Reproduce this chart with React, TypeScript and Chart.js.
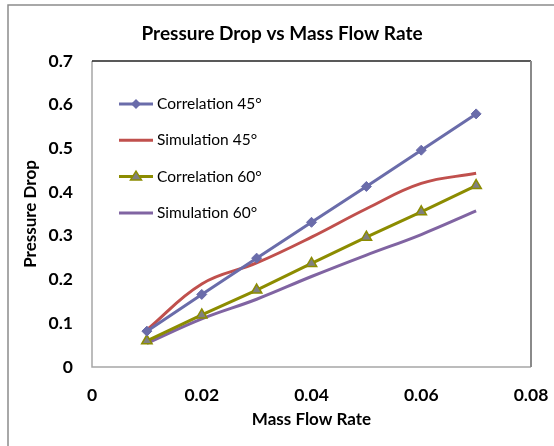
import { useEffect, useRef } from 'react';
import { Chart, registerables } from 'chart.js';

Chart.register(...registerables);

// Mass flow rate samples and pressure drop per configuration
const massFlow = [0.01, 0.02, 0.03, 0.04, 0.05, 0.06, 0.07];
const correlation45 = [0.082, 0.166, 0.249, 0.331, 0.413, 0.496, 0.579];
const simulation45 = [0.085, 0.19, 0.238, 0.297, 0.362, 0.42, 0.443];
const correlation60 = [0.06, 0.119, 0.176, 0.237, 0.297, 0.355, 0.415];
const simulation60 = [0.054, 0.11, 0.155, 0.207, 0.256, 0.303, 0.357];

const seriesNames = ['Correlation 45°', 'Simulation 45°', 'Correlation 60°', 'Simulation 60°'];
const xTicks = [0, 0.02, 0.04, 0.06, 0.08];
const yTicks = [0, 0.1, 0.2, 0.3, 0.4, 0.5, 0.6, 0.7];

const chartTitle = 'Pressure Drop vs Mass Flow Rate';
const xTitle = 'Mass Flow Rate';
const yTitle = 'Pressure Drop';

const FONT = 'Lato, "Open Sans", sans-serif';

const toPoints = (ys: number[]) => massFlow.map((x, i) => ({ x, y: ys[i] }));
const fmt = (v: number) => String(Number(v.toFixed(3)));

const decor = {
  id: 'decor',
  beforeDraw(chart: any) {
    const { ctx } = chart;
    ctx.save();
    // outer frame (left and top edges)
    ctx.strokeStyle = '#8c8c8c';
    ctx.lineWidth = 1.5;
    ctx.beginPath();
    ctx.moveTo(8, 446);
    ctx.lineTo(8, 5);
    ctx.lineTo(554, 5);
    ctx.stroke();
    // title
    ctx.fillStyle = '#000';
    ctx.font = `bold 19px ${FONT}`;
    ctx.textAlign = 'center';
    ctx.textBaseline = 'middle';
    ctx.fillText(chartTitle, 282, 34);
    ctx.restore();
  },
  beforeDatasetsDraw(chart: any) {
    const { ctx, chartArea: a } = chart;
    ctx.save();
    ctx.lineWidth = 1.5;
    ctx.strokeStyle = '#a6a6a6';
    ctx.beginPath();
    ctx.moveTo(a.left, a.top);
    ctx.lineTo(a.left, a.bottom);
    ctx.lineTo(a.right, a.bottom);
    ctx.stroke();
    ctx.strokeStyle = '#222';
    ctx.beginPath();
    ctx.moveTo(a.left, a.top);
    ctx.lineTo(a.right, a.top);
    ctx.stroke();
    ctx.strokeStyle = '#8a8a8a';
    ctx.lineWidth = 2;
    ctx.beginPath();
    ctx.moveTo(a.right, a.top);
    ctx.lineTo(a.right, a.bottom);
    ctx.stroke();
    ctx.restore();
  },
  afterDraw(chart: any) {
    const { ctx, chartArea: a } = chart;
    ctx.save();
    const x0 = a.left + 27;
    const x1 = a.left + 61;
    chart.data.datasets.forEach((ds: any, i: number) => {
      const y = a.top + 43 + i * 36.3;
      ctx.strokeStyle = ds.borderColor;
      ctx.lineWidth = 3;
      ctx.beginPath();
      ctx.moveTo(x0, y);
      ctx.lineTo(x1, y);
      ctx.stroke();
      const mx = (x0 + x1) / 2;
      if (ds.pointStyle === 'rectRot') {
        const r = 5;
        ctx.fillStyle = ds.pointBackgroundColor;
        ctx.beginPath();
        ctx.moveTo(mx, y - r);
        ctx.lineTo(mx + r, y);
        ctx.lineTo(mx, y + r);
        ctx.lineTo(mx - r, y);
        ctx.closePath();
        ctx.fill();
      } else if (ds.pointStyle === 'triangle') {
        const r = 5.5;
        ctx.fillStyle = ds.pointBackgroundColor;
        ctx.strokeStyle = ds.pointBorderColor;
        ctx.lineWidth = 1.5;
        ctx.beginPath();
        ctx.moveTo(mx, y - r);
        ctx.lineTo(mx + r, y + r * 0.6);
        ctx.lineTo(mx - r, y + r * 0.6);
        ctx.closePath();
        ctx.fill();
        ctx.stroke();
      }
      ctx.fillStyle = '#000';
      ctx.font = `15.5px ${FONT}`;
      ctx.textAlign = 'left';
      ctx.textBaseline = 'middle';
      ctx.fillText(ds.label, x1 + 4, y);
    });
    ctx.restore();
  },
};

export default function App() {
  const ref = useRef<HTMLCanvasElement | null>(null);

  useEffect(() => {
    if (!ref.current) return;
    const blue = '#6a6caa';
    const red = '#c0504d';
    const olive = '#8c8c00';
    const purple = '#8064a2';
    const chart = new Chart(ref.current, {
      type: 'scatter',
      data: {
        datasets: [
          {
            label: seriesNames[0],
            data: toPoints(correlation45),
            showLine: true,
            borderColor: blue,
            borderWidth: 3,
            pointStyle: 'rectRot',
            pointRadius: 5,
            pointBackgroundColor: blue,
            pointBorderColor: blue,
            pointBorderWidth: 1,
            tension: 0,
          },
          {
            label: seriesNames[1],
            data: toPoints(simulation45),
            showLine: true,
            borderColor: red,
            borderWidth: 3,
            pointRadius: 0,
            tension: 0.4,
          },
          {
            label: seriesNames[2],
            data: toPoints(correlation60),
            showLine: true,
            borderColor: olive,
            borderWidth: 3,
            pointStyle: 'triangle',
            pointRadius: 6,
            pointBackgroundColor: '#808080',
            pointBorderColor: olive,
            pointBorderWidth: 1.5,
            tension: 0,
          },
          {
            label: seriesNames[3],
            data: toPoints(simulation60),
            showLine: true,
            borderColor: purple,
            borderWidth: 3,
            pointRadius: 0,
            tension: 0.4,
          },
        ],
      },
      options: {
        responsive: false,
        animation: false,
        layout: { padding: { top: 61, right: 23, left: 0, bottom: 0 } },
        plugins: {
          legend: { display: false },
          title: { display: false },
          tooltip: { enabled: false },
        },
        scales: {
          x: {
            type: 'linear',
            min: 0,
            max: 0.08,
            afterBuildTicks: (s: any) => {
              s.ticks = xTicks.map((v) => ({ value: v }));
            },
            afterFit: (s: any) => {
              s.height = 79;
              s.paddingLeft = 0;
              s.paddingRight = 0;
            },
            grid: { display: false, drawTicks: false },
            border: { display: false },
            ticks: {
              padding: 18,
              color: '#000',
              font: { family: FONT, size: 17.5, weight: 'bold' },
              callback: (v: any) => fmt(Number(v)),
            },
            title: {
              display: true,
              text: xTitle,
              color: '#000',
              font: { family: FONT, size: 17, weight: 'bold' },
              padding: { top: 0, bottom: 16 },
            },
          },
          y: {
            type: 'linear',
            min: 0,
            max: 0.7,
            afterBuildTicks: (s: any) => {
              s.ticks = yTicks.map((v) => ({ value: v }));
            },
            afterFit: (s: any) => {
              s.width = 92;
              s.paddingTop = 0;
              s.paddingBottom = 0;
            },
            grid: { display: false, drawTicks: false },
            border: { display: false },
            ticks: {
              padding: 19,
              color: '#000',
              font: { family: FONT, size: 17.5, weight: 'bold' },
              callback: (v: any) => fmt(Number(v)),
            },
            title: {
              display: true,
              text: yTitle,
              color: '#000',
              font: { family: FONT, size: 17, weight: 'bold' },
              padding: { top: 20, bottom: 0 },
            },
          },
        },
      },
      plugins: [decor],
    });
    return () => chart.destroy();
  }, []);

  return (
    <div style={{ position: 'absolute', left: 0, top: 0, width: 554, height: 446, background: '#fff' }}>
      <canvas ref={ref} width={554} height={446} style={{ display: 'block' }} />
    </div>
  );
}
